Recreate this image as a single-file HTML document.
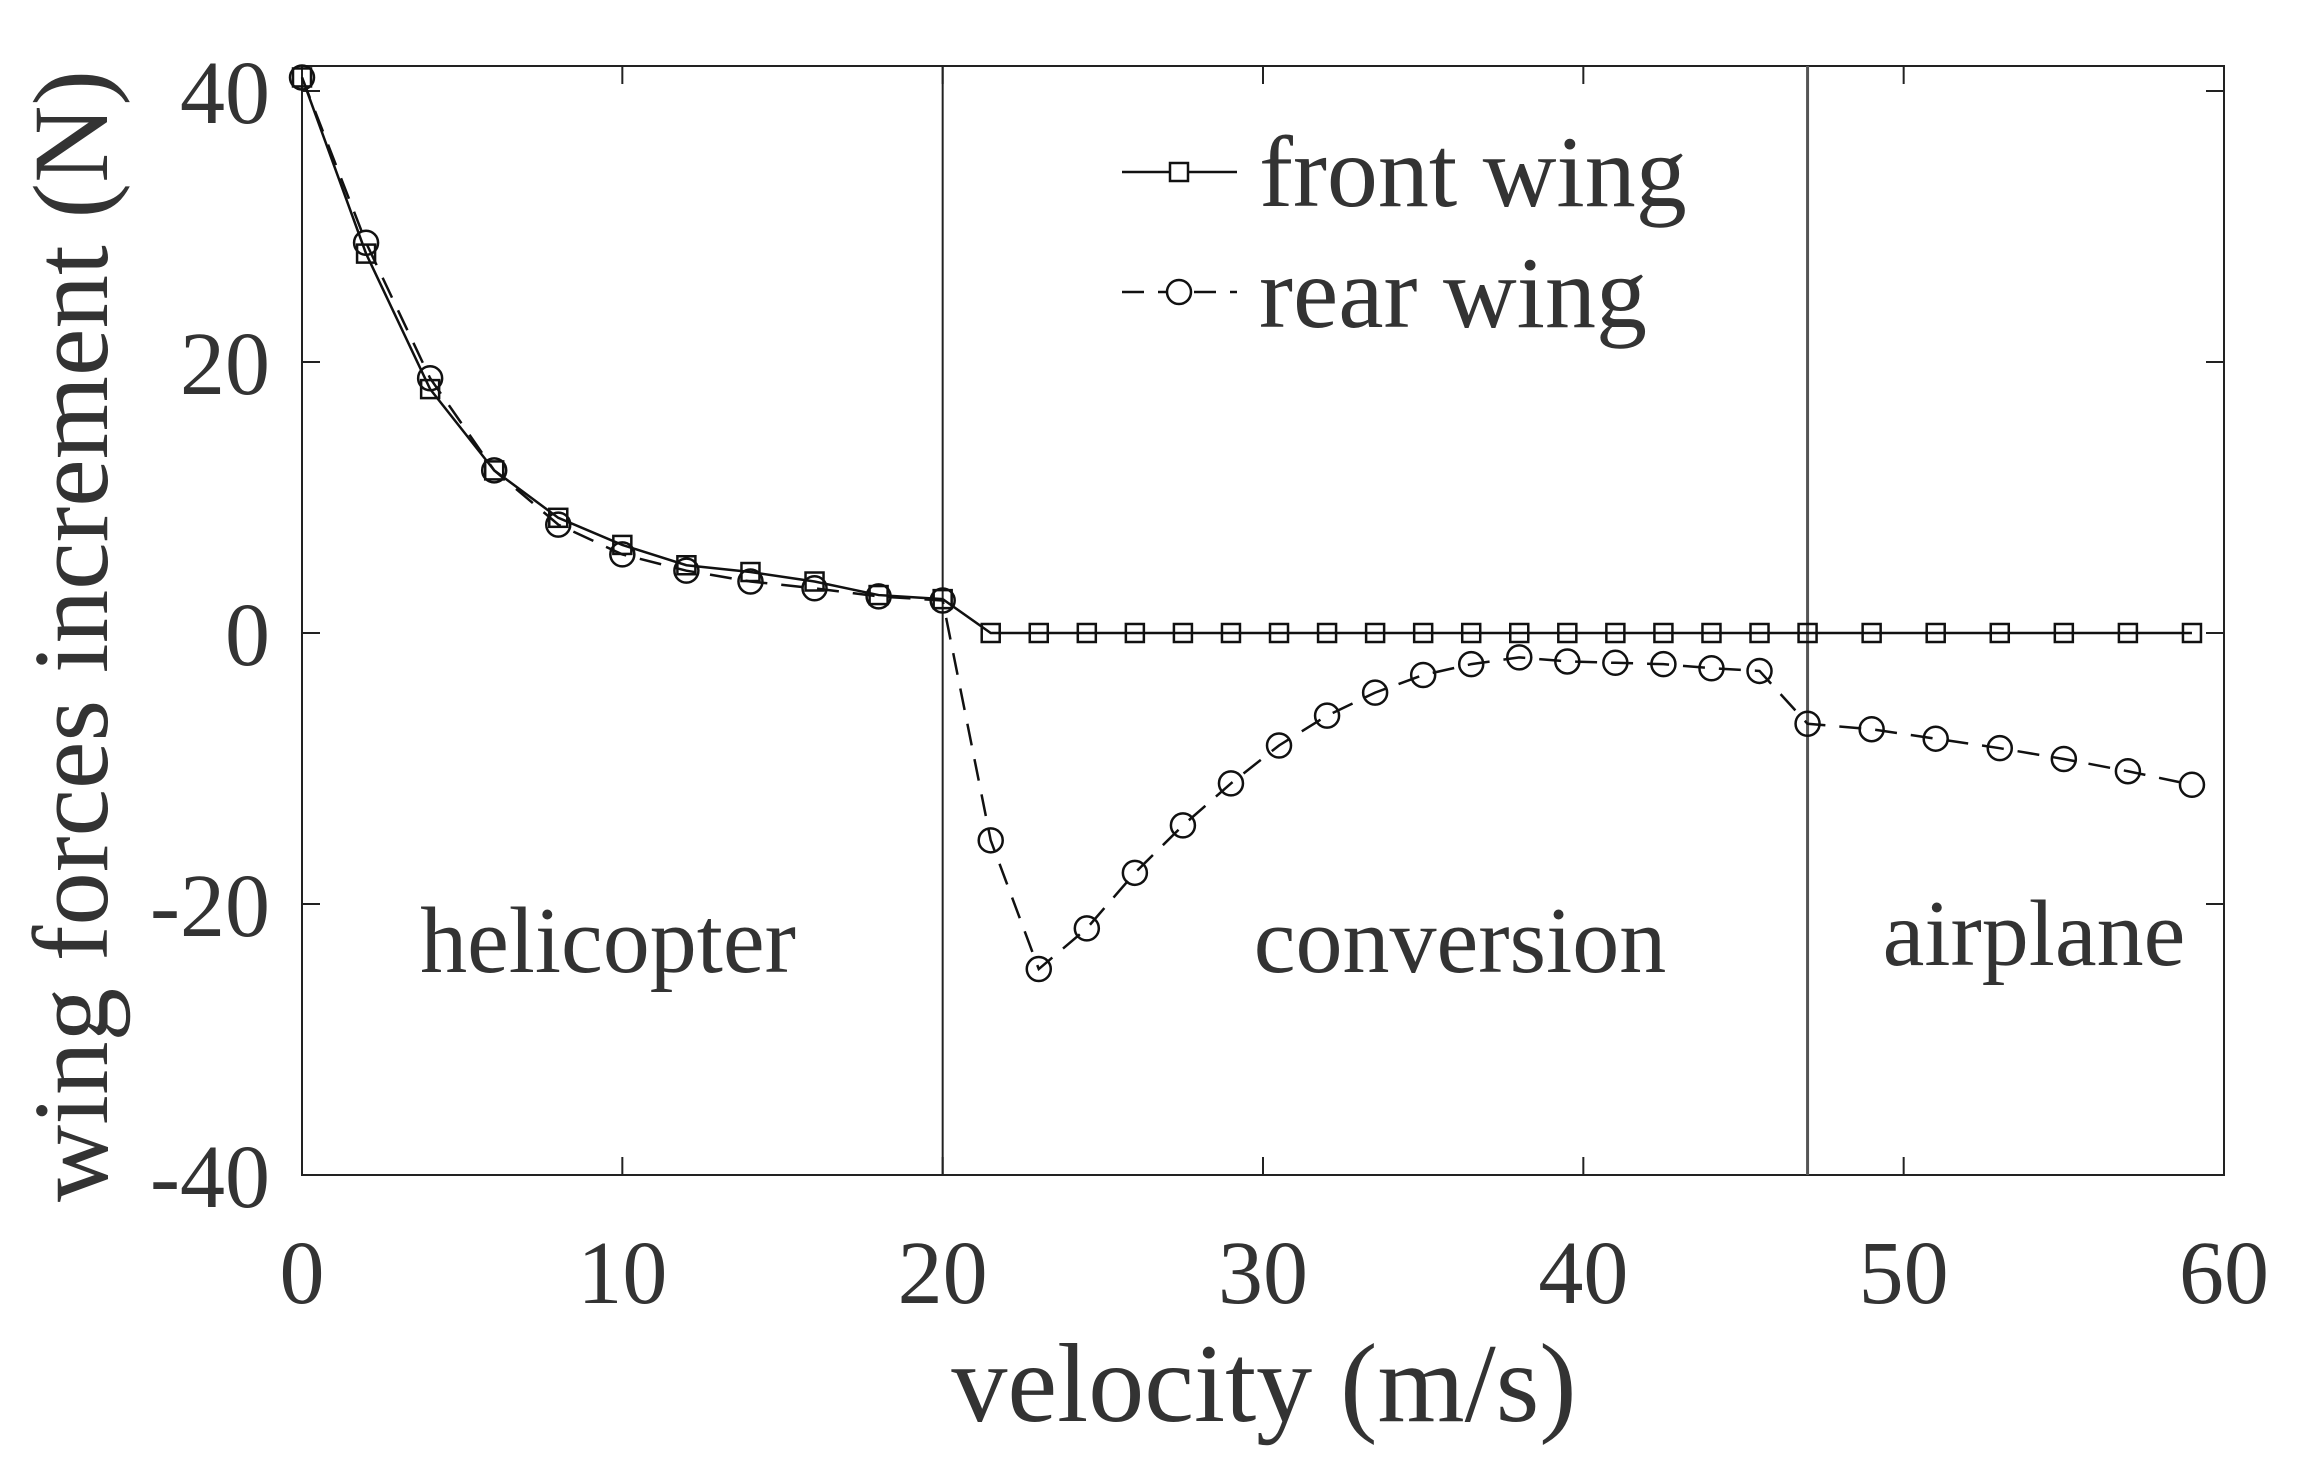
<!DOCTYPE html>
<html><head><meta charset="utf-8"><style>
html,body{margin:0;padding:0;background:#fff;}
svg text{font-family:"Liberation Serif",serif;fill:#333;}
</style></head><body>
<svg id="chart" width="2309" height="1475" xmlns="http://www.w3.org/2000/svg">
<g id="plot"></g>
</svg>
<script>
const xTicks=[0,10,20,30,40,50,60];
const yTicks=[40,20,0,-20,-40];
const yTickLabels=["40","20","0","-20","-40"];
const frontX=[0,2,4,6,8,10,12,14,16,18,20,21.5,23,24.5,26,27.5,29,30.5,32,33.5,35,36.5,38,39.5,41,42.5,44,45.5,47,49,51,53,55,57,59];
const frontY=[41,28,18,12,8.5,6.5,5,4.5,3.8,2.8,2.5,0,0,0,0,0,0,0,0,0,0,0,0,0,0,0,0,0,0,0,0,0,0,0,0];
const rearX=frontX;
const rearY=[41,28.8,18.8,12,8,5.8,4.6,3.8,3.3,2.7,2.4,-15.3,-24.8,-21.8,-17.7,-14.2,-11.1,-8.3,-6.1,-4.4,-3.1,-2.3,-1.8,-2.1,-2.2,-2.3,-2.6,-2.8,-6.7,-7.1,-7.8,-8.5,-9.3,-10.2,-11.2];
const regionLines=[20,47];
const NS="http://www.w3.org/2000/svg";
const L=302,R=2224,T=66,B=1175;
const xs=v=>L+(v/60)*(R-L);
const ys=v=>633-(v/20)*271;
const g=document.getElementById('plot');
function mk(t,a,p){const e=document.createElementNS(NS,t);for(const k in a)e.setAttribute(k,a[k]);(p||g).appendChild(e);return e;}
let fr=mk('rect',{x:L,y:T,width:R-L,height:B-T,fill:'none',stroke:'#222','stroke-width':2});


xTicks.forEach(v=>{
 let t=mk('path',{d:`M${xs(v)},${B}v-18M${xs(v)},${T}v18`,stroke:'#222','stroke-width':2});
 
 
 let l=mk('text',{x:xs(v),y:1303,'text-anchor':'middle','font-size':90});
 l.textContent=v;
 
 
});
yTicks.forEach((v,i)=>{
 let t=mk('path',{d:`M${L},${ys(v)}h18M${R},${ys(v)}h-18`,stroke:'#222','stroke-width':2});
 
 
 let l=mk('text',{x:270,y:ys(v)+32,'text-anchor':'end','font-size':90});
 l.textContent=yTickLabels[i];
 
 
});
regionLines.forEach((v,i)=>{
 let l=mk('line',{x1:xs(v),x2:xs(v),y1:T,y2:B,stroke:i?'#555':'#222','stroke-width':i?3:2});
 
 
});
function series(X,Y,dash,marker,name){
 let d=X.map((x,i)=>(i?'L':'M')+xs(x)+','+ys(Y[i])).join('');
 let p=mk('path',{d,fill:'none',stroke:'#111','stroke-width':2.5,'stroke-dasharray':dash});
 
 
 X.forEach((x,i)=>{
  let m;
  if(marker==='s')m=mk('rect',{x:xs(x)-9,y:ys(Y[i])-9,width:18,height:18,fill:'none',stroke:'#111','stroke-width':2.5});
  else m=mk('circle',{cx:xs(x),cy:ys(Y[i]),r:12,fill:'none',stroke:'#111','stroke-width':2.5});
  
  
 });
}
series(rearX,rearY,'22,14','c','rear-wing');
series(frontX,frontY,'none','s','front-wing');
let lg=mk('g',{});


mk('line',{x1:1122,x2:1237,y1:172,y2:172,stroke:'#111','stroke-width':2.5},lg);
mk('rect',{x:1170,y:163,width:18,height:18,fill:'#fff',stroke:'#111','stroke-width':2.5},lg);
let t1=mk('text',{x:1259,y:206,'font-size':102},lg);t1.textContent='front wing';


mk('line',{x1:1122,x2:1237,y1:292,y2:292,stroke:'#111','stroke-width':2.5,'stroke-dasharray':'22,14'},lg);
mk('circle',{cx:1179,cy:292,r:12,fill:'#fff',stroke:'#111','stroke-width':2.5},lg);
let t2=mk('text',{x:1259,y:327,'font-size':102},lg);t2.textContent='rear wing';


[['helicopter',608,972],['conversion',1460,972],['airplane',2034,965]].forEach(a=>{
 let t=mk('text',{x:a[1],y:a[2],'text-anchor':'middle','font-size':94});
 t.textContent=a[0];
 
 
});
let xt=mk('text',{x:1264,y:1421,'text-anchor':'middle','font-size':112});
xt.textContent='velocity (m/s)';


let yt=mk('text',{x:0,y:0,'text-anchor':'middle','font-size':107,transform:'translate(107,636) rotate(-90)'});
yt.textContent='wing forces increment (N)';


</script>
</body></html>
